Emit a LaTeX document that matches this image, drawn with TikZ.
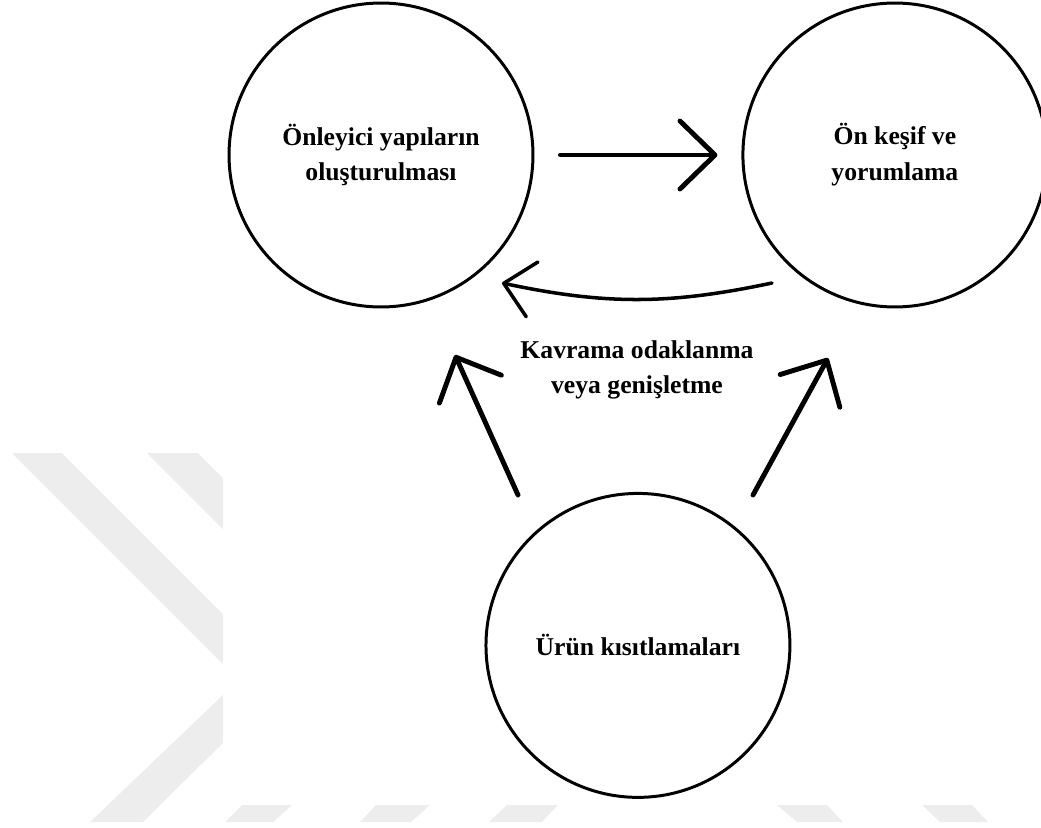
\documentclass[tikz,border=0pt]{standalone}
\usepackage{fontspec}
\setmainfont{Liberation Serif}
\usetikzlibrary{arrows.meta, calc, positioning}
\definecolor{wmgray}{HTML}{EDEDED}

\begin{document}
\begin{tikzpicture}[x=0.02cm, y=-0.02cm, node distance=4.14cm, >={Straight Barb[length=0.7cm, width=1.36cm, round]},
        every node/.style={font=\fontsize{14.6}{20.4}\selectfont\bfseries, align=center},
        stage/.style={draw, circle, line width=1.7pt, minimum size=6.08cm, inner sep=0pt},
        flow/.style={->, line width=2.8pt, line cap=round}]
    \useasboundingbox (0,0) rectangle (1041,828);
    % watermark
    \fill[wmgray] (12,453) -- (62,453) -- (223,614) -- (223,664) -- cycle;
    \fill[wmgray] (147,453) -- (198,453) -- (223,478) -- (223,529) -- cycle;
    \fill[wmgray] (90,822) -- (143,822) -- (223,743) -- (223,695) -- cycle;
    \fill[wmgray] (225,822) -- (273,822) -- (292,805) -- (242,805) -- cycle;
    \fill[wmgray] (360,822) -- (411,822) -- (430,805) -- (376,805) -- cycle;
    \fill[wmgray] (489,822) -- (542,822) -- (558,805) -- (507,805) -- cycle;
    \fill[wmgray] (797,822) -- (843,822) -- (827,805) -- (777,805) -- cycle;
    \fill[wmgray] (940,822) -- (988,822) -- (972,805) -- (922,805) -- cycle;

    \node[stage] (onleyici) at (381,155) {Önleyici yapıların\\oluşturulması};
    \node[stage] (onkesif) [right=of onleyici] {Ön keşif ve\\yorumlama};
    \coordinate (mid) at ($(onleyici)!0.5!(onkesif)$);
    \node[stage] (urun) [below=6.74cm of mid] {Ürün kısıtlamaları};
    \node (kavrama) at (637,370) {Kavrama odaklanma\\veya genişletme};

    \coordinate (geri_tail) at (772,283);
    \coordinate (geri_tip) at (502,283);
    \coordinate (kv_l_tail) at (518,495);
    \coordinate (kv_l_tip) at (455,355);
    \coordinate (kv_r_tail) at (753,495);
    \coordinate (kv_r_tip) at (828,358);

    \path[flow] (onleyici.east) edge [shorten <=0.52cm, shorten >=0.48cm] (onkesif.west);
    \path[flow, line width=2pt, >={Straight Barb[length=0.58cm, width=1.12cm, round]}]
        (geri_tail) edge [bend left=12] (geri_tip);
    \path[flow] (kv_l_tail) edge (kv_l_tip)
        (kv_r_tail) edge (kv_r_tip);
\end{tikzpicture}
\end{document}
